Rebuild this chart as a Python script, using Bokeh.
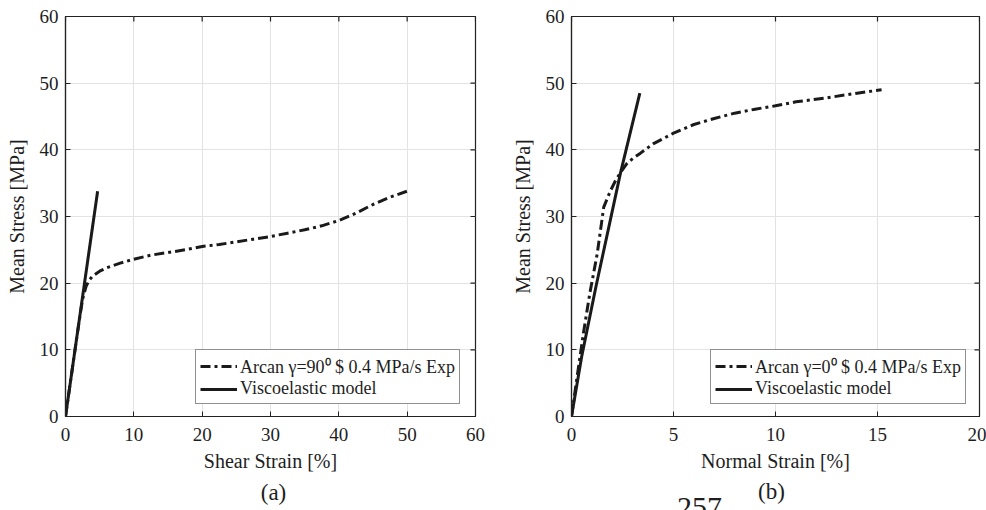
import math
from bokeh.plotting import figure
from bokeh.models import Legend, LegendItem, Label, FixedTicker, Range1d
from bokeh.layouts import row, column
from bokeh.embed import file_html
from bokeh.resources import INLINE

# ---------------- data ----------------
# Panel (a): shear
shear_exp_strain = [0, 1.0, 2.0, 2.5, 3.0, 3.5, 4.0, 5.0, 6.0, 8.0, 10.0, 12.5, 15.0, 17.5,
                    20.0, 22.5, 25.0, 27.5, 30.0, 32.5, 35.0, 37.5, 40.0, 42.5, 45.0, 47.5, 50.0]
shear_exp_stress = [0, 7.2, 14.3, 17.6, 19.5, 20.5, 21.1, 21.8, 22.3, 23.0, 23.6, 24.2, 24.6, 25.0,
                    25.5, 25.8, 26.2, 26.6, 27.0, 27.5, 28.0, 28.6, 29.4, 30.5, 31.8, 32.9, 33.8]
shear_model_strain = [0, 4.7]
shear_model_stress = [0, 33.8]

# Panel (b): normal
normal_exp_strain = [0, 0.3, 0.6, 0.9, 1.26, 1.58, 1.9, 2.16, 2.45, 2.73, 3.05, 3.38, 4.0, 5.0,
                     6.0, 7.0, 8.0, 9.0, 10.0, 11.0, 12.5, 14.0, 15.2]
normal_exp_stress = [0, 6.5, 12.8, 18.5, 24.4, 31.4, 33.8, 35.4, 36.8, 38.0, 38.8, 39.5, 40.9, 42.5,
                     43.8, 44.7, 45.5, 46.1, 46.6, 47.2, 47.8, 48.5, 49.0]
normal_model_strain = [0, 0.5, 1.2, 1.8, 2.4, 3.35]
normal_model_stress = [0, 9.0, 19.5, 28.0, 36.5, 48.5]

y_ticks = [0, 10, 20, 30, 40, 50, 60]
x_ticks_a = [0, 10, 20, 30, 40, 50, 60]
x_ticks_b = [0, 5, 10, 15, 20]

label_a = "Arcan γ=90⁰ $ 0.4 MPa/s Exp"
label_b = "Arcan γ=0⁰ $ 0.4 MPa/s Exp"
label_model = "Viscoelastic model"
caption_a = "(a)"
caption_b = "(b)"
page_number = "257"

FONT = "Liberation Serif"
TXT = "#1e1e1e"
LINE = "#1a1a1a"
AX = "#222222"
H = 478


def panel(width, bl, br, xmax, xticks, xs_e, ys_e, xs_m, ys_m, lab_e, xlabel, leg_loc):
    p = figure(width=width, height=H, output_backend="svg", toolbar_location=None,
               x_range=Range1d(0, xmax), y_range=Range1d(0, 60),
               min_border_left=bl, min_border_right=br, min_border_top=16,
               min_border_bottom=H - 416, x_axis_label=xlabel, y_axis_label="Mean Stress [MPa]")
    p.background_fill_color = "white"
    p.border_fill_color = "white"
    p.outline_line_color = AX
    p.outline_line_width = 1.2
    p.xaxis.ticker = FixedTicker(ticks=xticks)
    p.yaxis.ticker = FixedTicker(ticks=y_ticks)
    for ax in (p.xaxis[0], p.yaxis[0]):
        ax.major_tick_in = 5
        ax.major_tick_out = 0
        ax.minor_tick_line_color = None
        ax.axis_line_color = AX
        ax.axis_line_width = 1.2
        ax.major_tick_line_color = AX
        ax.major_label_text_font = FONT
        ax.major_label_text_font_size = "19px"
        ax.major_label_text_color = TXT
        ax.axis_label_text_font = FONT
        ax.axis_label_text_font_size = "20px"
        ax.axis_label_text_font_style = "normal"
        ax.axis_label_text_color = TXT
    p.xaxis.major_label_standoff = 11
    p.xaxis.axis_label_standoff = 6
    p.yaxis.major_label_standoff = 7
    p.yaxis.axis_label_standoff = 9

    p.xgrid.grid_line_color = "#e3e3e3"
    p.ygrid.grid_line_color = "#e3e3e3"
    p.xgrid.grid_line_width = 1
    p.ygrid.grid_line_width = 1

    # mirrored inward tick marks on top and right edges (half of each dash is clipped by the frame)
    p.scatter(x=xticks, y=[60] * len(xticks), marker="dash", size=10, angle=math.pi / 2,
              line_color=AX, line_width=1.2)
    p.scatter(x=[xmax] * len(y_ticks), y=y_ticks, marker="dash", size=10,
              line_color=AX, line_width=1.2)

    r_e = p.line(xs_e, ys_e, line_color=LINE, line_width=3, line_dash="10 4 3 4")
    r_m = p.line(xs_m, ys_m, line_color=LINE, line_width=3)

    leg = Legend(items=[LegendItem(label=lab_e, renderers=[r_e]),
                        LegendItem(label=label_model, renderers=[r_m])],
                 location=leg_loc)
    leg.label_text_font = FONT
    leg.label_text_font_size = "18px"
    leg.label_text_color = TXT
    leg.glyph_width = 37
    leg.glyph_height = 16
    leg.label_height = 16
    leg.label_standoff = 3
    leg.spacing = 0
    leg.padding = 4
    leg.margin = 0
    leg.border_line_color = AX
    leg.border_line_width = 1.2
    leg.background_fill_alpha = 1.0
    p.add_layout(leg)
    return p


pa = panel(505, 65, 30, 60, x_ticks_a, shear_exp_strain, shear_exp_stress,
           shear_model_strain, shear_model_stress, label_a, "Shear Strain [%]", (130, 12))
pb = panel(481, 66, 7, 20, x_ticks_b, normal_exp_strain, normal_exp_stress,
           normal_model_strain, normal_model_stress, label_b, "Normal Strain [%]", (139, 12))

# caption strip below both panels
CH = 510 - H
pc = figure(width=986, height=CH, output_backend="svg", toolbar_location=None,
            x_range=Range1d(0, 1), y_range=Range1d(0, 1),
            min_border=0, min_border_left=0, min_border_right=0, min_border_top=0,
            min_border_bottom=0)
pc.axis.visible = False
pc.grid.visible = False
pc.outline_line_color = None
pc.border_fill_color = "white"
for txt, x, y, size, base in [(caption_a, 273, 18, "23px", "middle"),
                              (caption_b, 771, 19, "23px", "middle"),
                              (page_number, 699, 13, "30px", "top")]:
    pc.add_layout(Label(x=x, y=y, x_units="screen", y_units="screen", text=txt,
                        text_font=FONT, text_font_size=size, text_color=TXT,
                        text_align="center", text_baseline=base))

layout = column(row(pa, pb, spacing=0), pc, spacing=0)
open("out.html", "w").write(file_html(layout, INLINE))
